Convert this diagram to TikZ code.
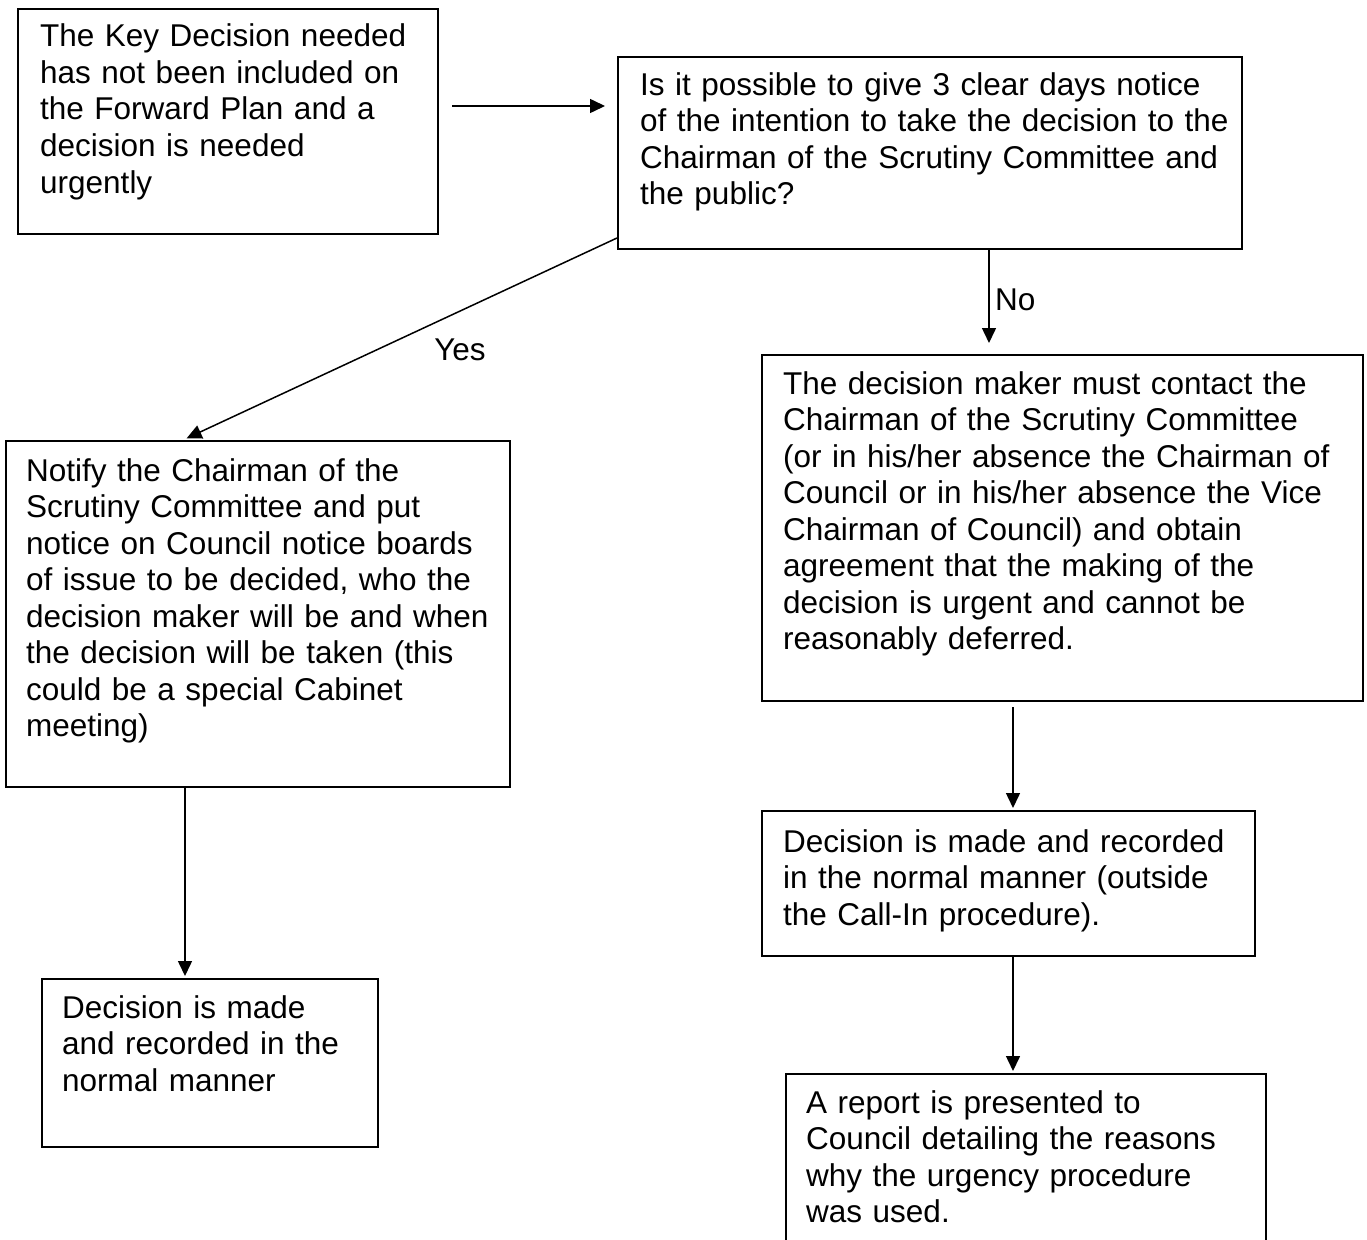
\documentclass[tikz,border=0pt]{standalone}
\usepackage{fontspec}
\setmainfont{Liberation Sans}
\usetikzlibrary{arrows.meta}
\begin{document}
\begin{tikzpicture}[x=1pt,y=-1pt,
  box/.style={draw, line width=2pt, anchor=north west, inner sep=0pt},
  txt/.style={anchor=base west, inner sep=0pt, align=left, font=\fontsize{31.5pt}{36.5pt}\selectfont},
  arr/.style={line width=1.5pt, -{Triangle[length=15pt,width=14pt]}},
  lbl/.style={font=\fontsize{31.5pt}{36.5pt}\selectfont, inner sep=0pt}]
\clip (0,0) rectangle (1367,1239);
% boxes
\node[box, minimum width=420pt, minimum height=225pt] (b1) at (17,8) {};
\node[box, minimum width=624pt, minimum height=192pt] (b2) at (617,56) {};
\node[box, minimum width=504pt, minimum height=346pt] (b3) at (5,440) {};
\node[box, minimum width=601pt, minimum height=346pt] (b4) at (761,354) {};
\node[box, minimum width=336pt, minimum height=168pt] (b5) at (41,978) {};
\node[box, minimum width=493pt, minimum height=145pt] (b6) at (761,810) {};
\node[box, minimum width=480pt, minimum height=300pt] (b7) at (785,1073) {};
% texts
\node[txt, text width=400pt] (t1) at ([xshift=23pt,yshift=-39pt]b1.north west)
  {The Key Decision needed\\has not been included on\\the Forward Plan and a\\decision is needed\\urgently};
\node[txt, text width=610pt] (t2) at ([xshift=23pt,yshift=-39pt]b2.north west)
  {Is it possible to give 3 clear days notice\\of the intention to take the decision to the\\Chairman of the Scrutiny Committee and\\the public?};
\node[txt, text width=490pt] (t3) at ([xshift=21pt,yshift=-41pt]b3.north west)
  {Notify the Chairman of the\\Scrutiny Committee and put\\notice on Council notice boards\\of issue to be decided, who the\\decision maker will be and when\\the decision will be taken (this\\could be a special Cabinet\\meeting)};
\node[txt, text width=590pt] (t4) at ([xshift=22pt,yshift=-40pt]b4.north west)
  {The decision maker must contact the\\Chairman of the Scrutiny Committee\\(or in his/her absence the Chairman of\\Council or in his/her absence the Vice\\Chairman of Council) and obtain\\agreement that the making of the\\decision is urgent and cannot be\\reasonably deferred.};
\node[txt, text width=320pt] (t5) at ([xshift=21pt,yshift=-40pt]b5.north west)
  {Decision is made\\and recorded in the\\normal manner};
\node[txt, text width=480pt] (t6) at ([xshift=22pt,yshift=-42pt]b6.north west)
  {Decision is made and recorded\\in the normal manner (outside\\the Call-In procedure).};
\node[txt, text width=470pt] (t7) at ([xshift=21pt,yshift=-40pt]b7.north west)
  {A report is presented to\\Council detailing the reasons\\why the urgency procedure\\was used.};
% connector coordinates
\coordinate (cy) at (0,106);
\coordinate (yx) at (183,0);
\coordinate (nx) at (989,0);
\coordinate (rx) at (1013,0);
\coordinate (lx) at (185,0);
% connectors
\draw[arr, shorten <=13pt, shorten >=12pt] (b1.east |- cy) -- (b2.west |- cy);
\draw[arr, shorten >=4pt] ([yshift=12pt]b2.south west) -- (b3.north -| yx);
\draw[arr, shorten >=11pt] (b2.south -| nx) -- (b4.north -| nx);
\draw[arr, shorten <=5pt, shorten >=2pt] (b4.south -| rx) -- (b6.north -| rx);
\draw[arr, shorten >=2pt] (b6.south -| rx) -- (b7.north -| rx);
\draw[arr, shorten >=2pt] (b3.south -| lx) -- (b5.north -| lx);
% labels
\node[lbl] (yes) at (460,350) {Yes};
\node[lbl, anchor=west] (no) at (995,300) {No};
\end{tikzpicture}
\end{document}
